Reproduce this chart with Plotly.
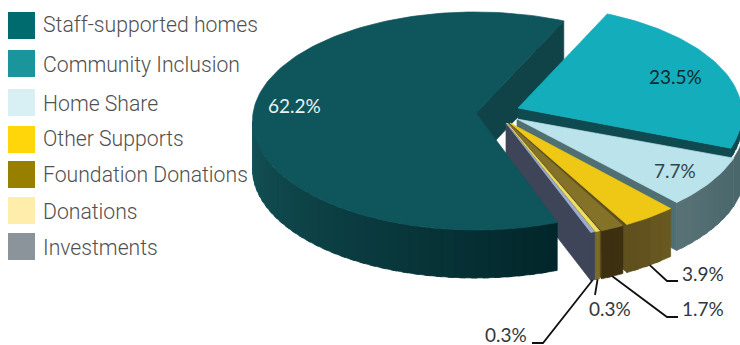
import math
import plotly.graph_objects as go

# Revenue shares by source
categories = ["Staff-supported homes", "Community Inclusion", "Home Share", "Other Supports",
              "Foundation Donations", "Donations", "Investments"]
values = [62.2, 23.5, 7.7, 3.9, 1.7, 0.3, 0.3]
value_labels = ["62.2%", "23.5%", "7.7%", "3.9%", "1.7%", "0.3%", "0.3%"]
legend_colors = ["#006b6e", "#1a959c", "#d8eff3", "#ffd60a", "#978000", "#ffedab", "#8b939b"]

# Face colours of the extruded slices
top_colors = ["#0f555c", "#14adbb", "#bae3eb", "#eec814", "#857229", "#f2e05a", "#9cadd0"]
cut_colors = ["#0f4347", "#0f4a50", "#4f6f73", "#5f5020", "#5a4c1c", "#7b6c2a", "#3e4558"]
rim_from = ["#145358", "#0f4a50", "#4a676b", "#6a5a22", "#3d3010", "#7b6c2a", "#3e4558"]
rim_to = ["#02262a", "#0f4a50", "#587276", "#5e4f1c", "#3d3010", "#7b6c2a", "#3e4558"]

# Projection of the disc: radii, extrusion depth, rotation of the first slice
RX, RY, DEPTH = 223, 109, 48
START = 158.5
TEAL_RIM_DEPTH = 10
# Ellipse centre and inner point of every exploded slice
centers = [(475.5, 121), (519, 114), (522, 124), (516, 130), (512, 131), (510, 131), (509, 131)]
apexes = [(476, 113), (518, 108), (517, 119), (510, 123), (508, 123), (507, 123), (506, 123)]

# Label layout: text centre, and the bend of the leader line where there is one
label_pos = [(294, 105), (675, 76), (675, 170), (703, 273), (703, 308), (610, 308), (506, 334)]
leader_bends = [None, None, None, [(667, 281), (678, 281)], [(667, 317), (678, 317)],
                [(595, 295)], [(543, 343), (532, 343)]]
label_colors = ["#e8f2f2", "#0c2a30", "#33454a", "#33383a", "#33383a", "#33383a", "#33383a"]
legend_tops = [12, 50, 89, 126, 161, 197, 233]
legend_text_y = [24, 64, 103, 138, 174, 211, 247]


def point(center, deg, drop=0):
    # Clockwise angle measured from the top of the disc
    a = math.radians(deg)
    return center[0] + RX * math.sin(a), center[1] - RY * math.cos(a) + drop


def mix(c1, c2, t):
    p = [int(c1[i:i + 2], 16) for i in (1, 3, 5)]
    q = [int(c2[i:i + 2], 16) for i in (1, 3, 5)]
    return "#" + "".join(f"{round(a + (b - a) * t):02x}" for a, b in zip(p, q))


fig = go.Figure()


def polygon(pts, color):
    xs, ys = zip(*pts)
    fig.add_trace(go.Scatter(x=list(xs) + [xs[0]], y=list(ys) + [ys[0]], mode="lines", fill="toself",
                             fillcolor=color, line=dict(color=color, width=0.7),
                             hoverinfo="skip", showlegend=False))


def arc(center, a0, a1, drop=0, step=1.5):
    n = max(2, int(abs(a1 - a0) / step) + 1)
    return [point(center, a0 + (a1 - a0) * k / n, drop) for k in range(n + 1)]


def cut_wall(i, deg):
    c, ax = centers[i], apexes[i]
    corner, corner_low = point(c, deg), point(c, deg, DEPTH)
    polygon([ax, corner, corner_low, (ax[0], ax[1] + DEPTH)], cut_colors[i])


def rim(i, a0, a1, depth=DEPTH):
    # Front edge of a slice, shaded in small steps; each step runs under the next one
    lo, hi = max(a0, 90), min(a1, 270)
    if hi <= lo:
        return
    c = centers[i]
    n = max(1, int((hi - lo) / 3))
    for k in range(n):
        s = lo + (hi - lo) * k / n
        e = lo + (hi - lo) * (k + 1) / n
        e = min(hi, e + 1.5)
        t = 1 - (k + 0.5) / n if i == 0 else (k + 0.5) / n
        polygon(arc(c, s, e) + arc(c, e, s, depth), mix(rim_from[i], rim_to[i], t))


def top(i, a0, a1):
    polygon([apexes[i]] + arc(centers[i], a0, a1), top_colors[i])


total = sum(values)
spans = []
angle = START
for v in values:
    spans.append((angle, angle + v / total * 360))
    angle = spans[-1][1]


def wrapped(i):
    a0 = spans[i][0] % 360
    return a0, a0 + spans[i][1] - spans[i][0]


# Painter's order: far wall of the large slice, then the exploded slices, the large slice last
main_a0, main_a1 = spans[0]
cut_wall(0, main_a1)
for i in range(1, len(values)):
    a0, a1 = wrapped(i)
    cut_wall(i, a1)
    if i == 1:
        # The outer wall of the next slice shows past the right corner of this one
        h0, _ = wrapped(2)
        polygon(arc(centers[2], h0 - 11, h0) + arc(centers[2], h0, h0 - 11, DEPTH), rim_from[2])
        rim(i, a0, a1, TEAL_RIM_DEPTH)
    else:
        rim(i, a0, a1)
    top(i, a0, a1)
rim(0, main_a0, main_a1)
top(0, main_a0, main_a1)

# Leader lines run from the lower rim of a slice to its label
for i, bends in enumerate(leader_bends):
    if bends:
        a0, a1 = wrapped(i)
        start = point(centers[i], (a0 + a1) / 2, DEPTH)
        pts = [start] + bends
        fig.add_trace(go.Scatter(x=[p[0] for p in pts], y=[p[1] for p in pts], mode="lines",
                                 line=dict(color="#111111", width=1.8), hoverinfo="skip", showlegend=False))

annotations = []
for i, text in enumerate(value_labels):
    annotations.append(dict(x=label_pos[i][0], y=label_pos[i][1], text=text, showarrow=False,
                            xanchor="center", yanchor="middle",
                            font=dict(family="Lato", size=19, color=label_colors[i])))

shapes = []
for name, color, y0, ty in zip(categories, legend_colors, legend_tops, legend_text_y):
    shapes.append(dict(type="rect", x0=8, x1=35, y0=y0, y1=y0 + 27, fillcolor=color, line=dict(width=0)))
    annotations.append(dict(x=41, y=ty, text=name, showarrow=False, xanchor="left", yanchor="middle",
                            font=dict(family="Roboto", size=21.2, color="#505050", weight=300)))

fig.update_layout(
    width=740, height=345, margin=dict(l=0, r=0, t=0, b=0),
    paper_bgcolor="white", plot_bgcolor="white", showlegend=False,
    xaxis=dict(range=[0, 740], visible=False, fixedrange=True),
    yaxis=dict(range=[345, 0], visible=False, fixedrange=True),
    annotations=annotations, shapes=shapes,
)

fig.write_html("out.html", config=dict(displayModeBar=False))
